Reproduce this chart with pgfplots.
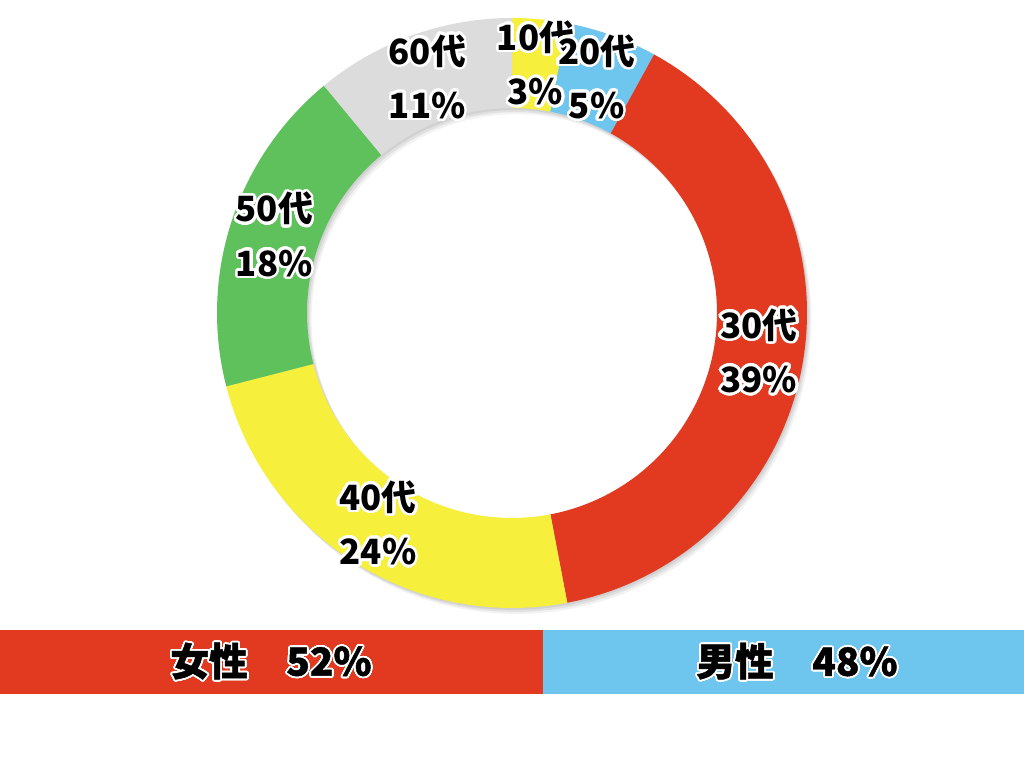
\documentclass[border=0pt]{standalone}
\usepackage{pgfplots}
\pgfplotsset{compat=1.18}
\usepackage{fontspec}
\newfontfamily\jp{Noto Sans CJK JP}
\newfontfamily\jpheavy[BoldFeatures={FakeBold=1.2}]{Noto Sans CJK JP}
\usepackage{contour}
\contournumber{40}
\definecolor{myred}{RGB}{225,58,32}
\definecolor{myblue}{RGB}{110,198,239}
\definecolor{myyellow}{RGB}{246,239,60}
\definecolor{mygreen}{RGB}{94,193,91}
\definecolor{mygray}{RGB}{220,220,220}

% ring geometry (pixel units of the 1024x768 picture)
\def\cx{512}\def\cy{455}\def\Ro{295}\def\Ri{205}\def\Rl{250}

\def\cumA{0}
\newcommand\seg[2]{% value (percent), colour
  \pgfmathsetmacro\aA{90-3.6*\cumA}%
  \pgfmathsetmacro\aB{90-3.6*(\cumA+#1)}%
  \pgfmathsetmacro\newcum{\cumA+#1}\global\let\cumA\newcum
  \edef\temp{\noexpand\addplot[fill=#2,draw=none,domain=0:3,samples=301,variable=\noexpand\t]
   ({\cx+((\noexpand\t<=1.5)*\Ro+(\noexpand\t>1.5)*\Ri)*cos((\noexpand\t<=1.5)*((\aA)+((\aB)-(\aA))*min(\noexpand\t,1))+(\noexpand\t>1.5)*((\aB)-((\aB)-(\aA))*max(\noexpand\t-2,0)))},
    {\cy+((\noexpand\t<=1.5)*\Ro+(\noexpand\t>1.5)*\Ri)*sin((\noexpand\t<=1.5)*((\aA)+((\aB)-(\aA))*min(\noexpand\t,1))+(\noexpand\t>1.5)*((\aB)-((\aB)-(\aA))*max(\noexpand\t-2,0)))});}%
  \temp}

\newcommand\ringshadow[3]{% dx, dy, opacity
  \addplot[fill=black,fill opacity=#3,draw=none,domain=0:3,samples=301,variable=\t]
   ({\cx+#1+((\t<=1.5)*\Ro+(\t>1.5)*\Ri)*cos((\t<=1.5)*(90-360*min(\t,1))+(\t>1.5)*(-270+360*max(\t-2,0)))},
    {\cy+#2+((\t<=1.5)*\Ro+(\t>1.5)*\Ri)*sin((\t<=1.5)*(90-360*min(\t,1))+(\t>1.5)*(-270+360*max(\t-2,0)))});}

\def\cumB{0}
\newcommand\lab[3]{% value, line 1, line 2
  \pgfmathsetmacro\aM{90-3.6*(\cumB+#1/2)}%
  \pgfmathsetmacro\newcum{\cumB+#1}\global\let\cumB\newcum
  \pgfmathsetmacro\lx{\cx+\Rl*cos(\aM)}%
  \pgfmathsetmacro\ly{\cy+\Rl*sin(\aM)}%
  \edef\temp{\noexpand\node[lbl] at (axis cs:\lx,\ly) {\unexpanded{\contour{white}{#2}\\\contour{white}{#3}}};}%
  \temp}

\begin{document}
\begin{tikzpicture}[
  lbl/.style={align=center, inner sep=0pt,
    font=\jp\bfseries\fontsize{9.9pt}{15.4pt}\selectfont\contourlength{0.75pt}},
  blbl/.style={inner sep=0pt,
    font=\jpheavy\bfseries\fontsize{11pt}{13pt}\selectfont\contourlength{0.5pt}}]
\path[use as bounding box] (0,0) rectangle (10.24cm,7.68cm);
% gender bar
\begin{axis}[at={(0,0.74cm)}, anchor=south west, scale only axis,
  width=10.24cm, height=0.64cm, xmin=0, xmax=98.1, ymin=0.5, ymax=1.5,
  xbar stacked, bar width=0.64cm, hide axis, clip=false]
  \addplot[fill=myred, draw=none] coordinates {(52,1)};
  \addplot[fill=myblue, draw=none] coordinates {(48,1)};
\end{axis}
% age ring
\begin{axis}[at={(0,0)}, anchor=south west, scale only axis,
  width=10.24cm, height=7.68cm, xmin=0, xmax=1024, ymin=0, ymax=768,
  hide axis, clip=false]
  \ringshadow{1.5}{-2}{0.07}
  \ringshadow{3}{-4}{0.07}
  \ringshadow{4.5}{-6}{0.05}
  \seg{3}{myyellow}
  \seg{5}{myblue}
  \seg{39}{myred}
  \seg{24}{myyellow}
  \seg{18}{mygreen}
  \seg{11}{mygray}
  \lab{3}{10代}{3\%}
  \lab{5}{20代}{5\%}
  \lab{39}{30代}{39\%}
  \lab{24}{40代}{24\%}
  \lab{18}{50代}{18\%}
  \lab{11}{60代}{11\%}
  \node[blbl] at (axis cs:271,106) {\contour{white}{女性　52\%}};
  \node[blbl] at (axis cs:797,106) {\contour{white}{男性　48\%}};
\end{axis}
\end{tikzpicture}
\end{document}
